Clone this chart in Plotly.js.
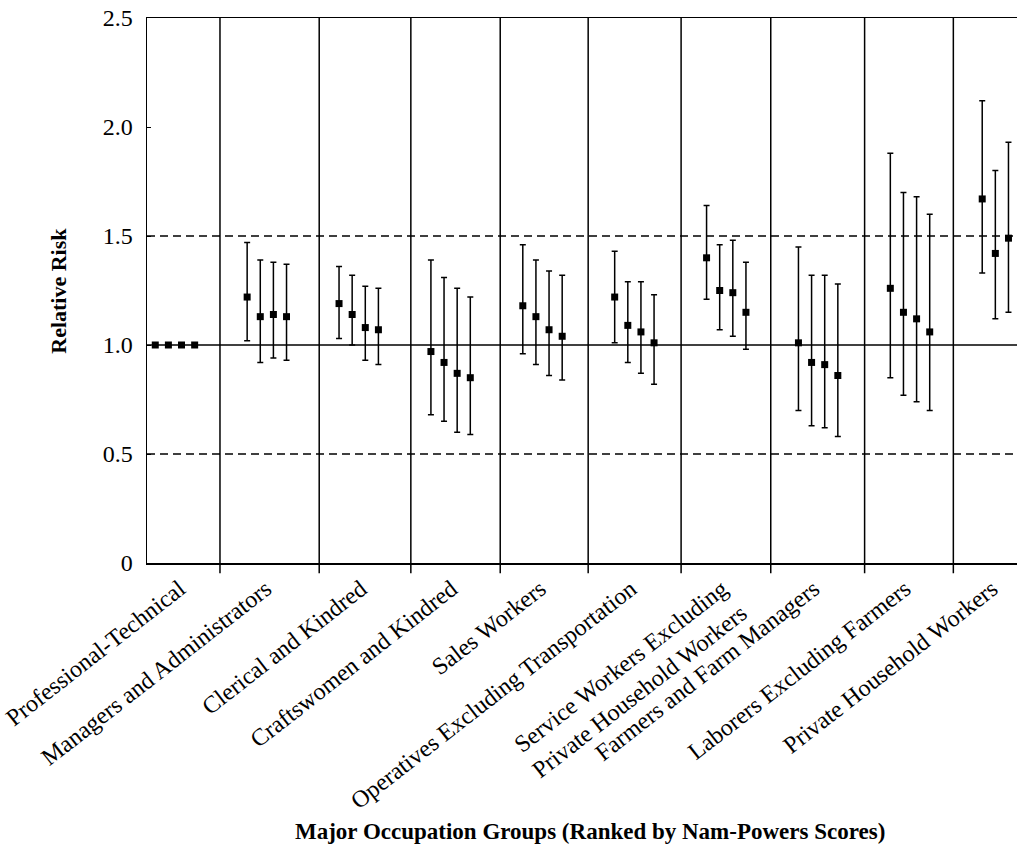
<!DOCTYPE html>
<html>
<head>
<meta charset="utf-8">
<script src="https://cdn.plot.ly/plotly-3.0.1.min.js"></script>
<style>
html,body{margin:0;padding:0;background:#fff;overflow:hidden;}
#chart{width:1017px;height:844px;}
</style>
</head>
<body>
<div id="chart"></div>
<script>
// Occupation groups (ranked by Nam-Powers scores)
var categories = [
  "Professional-Technical",
  "Managers and Administrators",
  "Clerical and Kindred",
  "Craftswomen and Kindred",
  "Sales Workers",
  "Operatives Excluding Transportation",
  "Service Workers Excluding<br>Private Household Workers",
  "Farmers and Farm Managers",
  "Laborers Excluding Farmers",
  "Private Household Workers"
];

// Relative risk estimates and confidence limits, four estimates per group
var rr1 = [1.00, 1.22, 1.19, 0.97, 1.18, 1.22, 1.40, 1.01, 1.26, 1.67];
var hi1 = [1.00, 1.47, 1.36, 1.39, 1.46, 1.43, 1.64, 1.45, 1.88, 2.12];
var lo1 = [1.00, 1.02, 1.03, 0.68, 0.96, 1.01, 1.21, 0.70, 0.85, 1.33];

var rr2 = [1.00, 1.13, 1.14, 0.92, 1.13, 1.09, 1.25, 0.92, 1.15, 1.42];
var hi2 = [1.00, 1.39, 1.32, 1.31, 1.39, 1.29, 1.46, 1.32, 1.70, 1.80];
var lo2 = [1.00, 0.92, 1.00, 0.65, 0.91, 0.92, 1.07, 0.63, 0.77, 1.12];

var rr3 = [1.00, 1.14, 1.08, 0.87, 1.07, 1.06, 1.24, 0.91, 1.12, 1.49];
var hi3 = [1.00, 1.38, 1.27, 1.26, 1.34, 1.29, 1.48, 1.32, 1.68, 1.93];
var lo3 = [1.00, 0.94, 0.93, 0.60, 0.86, 0.87, 1.04, 0.62, 0.74, 1.15];

var rr4 = [1.00, 1.13, 1.07, 0.85, 1.04, 1.01, 1.15, 0.86, 1.06, null];
var hi4 = [1.00, 1.37, 1.26, 1.22, 1.32, 1.23, 1.38, 1.28, 1.60, null];
var lo4 = [1.00, 0.93, 0.91, 0.59, 0.84, 0.82, 0.98, 0.58, 0.70, null];

var yTickVals = [0, 0.5, 1.0, 1.5, 2.0, 2.5];
var yTickText = ["0", "0.5", "1.0", "1.5", "2.0", "2.5"];

// ---- layout helpers (positions only) ----
var groupStep = 7;            // x units per occupation group
var xMin = 0.37, xMax = 66.65;
var boundaries = [xMin, 5.93, 13.49, 20.47, 27.28, 33.98, 41.06, 47.89, 55.04, 61.80, 68.3];
var separators = boundaries.slice(1, boundaries.length - 1);
var labelShift = -0.3;
var labelPos = [];
for (var i = 0; i < categories.length; i++) {
  labelPos.push((boundaries[i] + boundaries[i + 1]) / 2 + labelShift);
}

var series = [[rr1, hi1, lo1], [rr2, hi2, lo2], [rr3, hi3, lo3], [rr4, hi4, lo4]];
var traces = series.map(function (s, j) {
  var xs = [], ys = [], up = [], dn = [];
  for (var g = 0; g < categories.length; g++) {
    xs.push(g * groupStep + j + 1);
    ys.push(s[0][g]);
    up.push(s[0][g] == null ? null : s[1][g] - s[0][g]);
    dn.push(s[0][g] == null ? null : s[0][g] - s[2][g]);
  }
  return {
    type: "scatter", mode: "markers", x: xs, y: ys,
    marker: {symbol: "square", size: 7, color: "#000"},
    error_y: {type: "data", symmetric: false, array: up, arrayminus: dn,
              color: "#000", thickness: 1.5, width: 3},
    showlegend: false, hoverinfo: "y", cliponaxis: false
  };
});

var shapes = [];
separators.forEach(function (sx) {
  shapes.push({type: "line", xref: "x", yref: "paper", x0: sx, x1: sx, y0: -0.019, y1: 1,
               line: {color: "#000", width: 1.5}, layer: "below"});
});
shapes.push({type: "line", xref: "paper", yref: "y", x0: 0, x1: 1, y0: 1.0, y1: 1.0,
             line: {color: "#000", width: 1.5}, layer: "below"});
[0.5, 1.5].forEach(function (v) {
  shapes.push({type: "line", xref: "paper", yref: "y", x0: 0, x1: 1, y0: v, y1: v,
               line: {color: "#000", width: 1.3, dash: "8px,5px"}, layer: "below"});
});

var font = {family: "Liberation Serif, Times New Roman, serif", size: 24, color: "#000"};

var layout = {
  width: 1017, height: 844,
  margin: {l: 147, r: 0, t: 18, b: 281, pad: 0},
  paper_bgcolor: "#fff", plot_bgcolor: "#fff",
  font: font,
  showlegend: false,
  xaxis: {
    range: [xMin, xMax], showgrid: false, zeroline: false,
    showline: true, mirror: true, linecolor: "#000", linewidth: 1.5,
    tickmode: "array", tickvals: labelPos, ticktext: categories,
    ticks: "", tickangle: -38, ticklabelstandoff: 1,
    tickfont: font, automargin: false
  },
  yaxis: {
    range: [0, 2.5], showgrid: false, zeroline: false,
    showline: true, linecolor: "#000", linewidth: 1.5,
    tickmode: "array", tickvals: yTickVals, ticktext: yTickText,
    ticks: "inside", ticklen: 4, tickcolor: "#000", ticklabelstandoff: 8,
    tickfont: font, automargin: false
  },
  shapes: shapes,
  annotations: [
    {text: "<b>Relative Risk</b>", xref: "paper", yref: "paper",
     x: -0.102, y: 0.5, xanchor: "center", yanchor: "middle", textangle: -90, showarrow: false,
     font: {family: font.family, size: 22, color: "#000"}},
    {text: "<b>Major Occupation Groups (Ranked by Nam-Powers Scores)</b>",
     xref: "paper", yref: "paper", x: 0.509, y: -0.493, xanchor: "center", yanchor: "middle",
     showarrow: false,
     font: {family: font.family, size: 23, color: "#000"}}
  ]
};

Plotly.newPlot("chart", traces, layout, {displayModeBar: false, staticPlot: true});
</script>
</body>
</html>
